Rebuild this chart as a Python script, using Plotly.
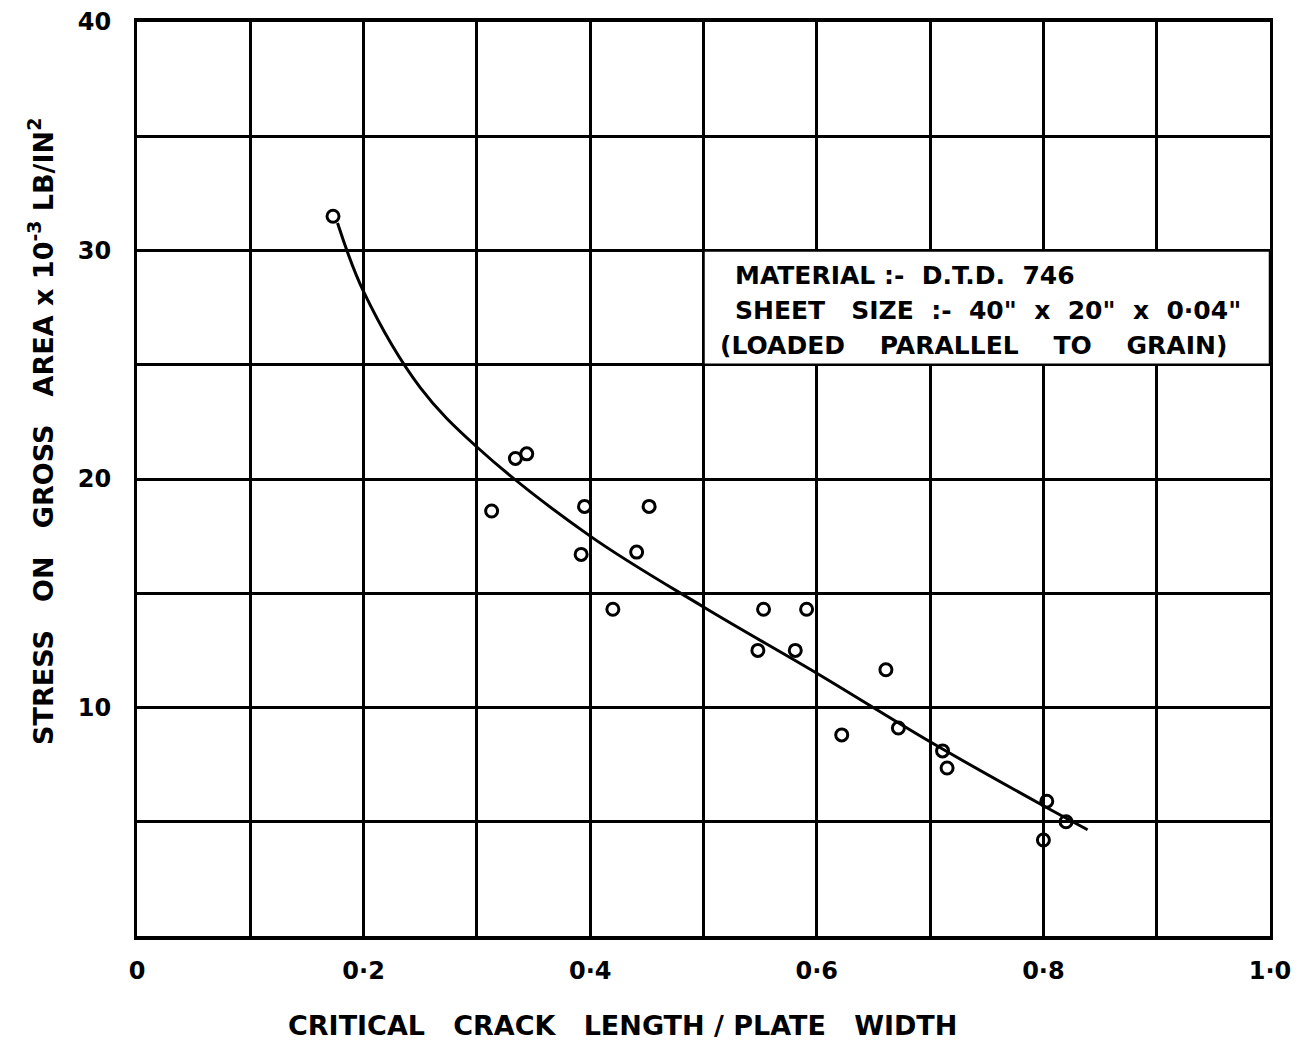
import plotly.graph_objects as go

# Measured points
crack_ratio = [0.173, 0.313, 0.334, 0.344, 0.392, 0.395, 0.420, 0.441, 0.452,
               0.548, 0.553, 0.581, 0.591, 0.622, 0.661, 0.672, 0.711, 0.715,
               0.803, 0.800, 0.820]
stress = [31.5, 18.6, 20.9, 21.1, 16.7, 18.8, 14.3, 16.8, 18.8,
          12.5, 14.3, 12.5, 14.3, 8.8, 11.65, 9.1, 8.1, 7.35,
          5.9, 4.2, 5.0]

# Fitted curve
curve_x = [0.177, 0.200, 0.250, 0.300, 0.400, 0.500, 0.600, 0.700, 0.800, 0.839]
curve_y = [31.2, 28.2, 24.0, 21.4, 17.5, 14.4, 11.5, 8.5, 5.7, 4.65]

x_tickvals = [0, 0.1, 0.2, 0.3, 0.4, 0.5, 0.6, 0.7, 0.8, 0.9, 1.0]
x_ticktext = ["0", "", "0·2", "", "0·4", "", "0·6", "", "0·8", "", "1·0"]
y_tickvals = [0, 5, 10, 15, 20, 25, 30, 35, 40]
y_ticktext = ["", "", "10", "", "20", "", "30", "", "40"]

note_lines = ["MATERIAL :-  D.T.D.  746",
              "SHEET   SIZE  :-  40\"  x  20\"  x  0·04\"",
              "(LOADED    PARALLEL    TO    GRAIN)"]
note_x = [0.526, 0.526, 0.513]

FONT = "DejaVu Sans"
NB = "&nbsp;"

fig = go.Figure()
fig.add_trace(go.Scatter(x=curve_x, y=curve_y, mode="lines",
                         line=dict(color="black", width=3, shape="spline", smoothing=1.0),
                         hoverinfo="skip", showlegend=False))
fig.add_trace(go.Scatter(x=crack_ratio, y=stress, mode="markers",
                         marker=dict(symbol="circle-open", size=12, color="black",
                                     line=dict(width=3, color="black")),
                         showlegend=False))

# White note box covering grid
fig.add_shape(type="rect", xref="x", yref="y", x0=0.5, x1=1.0, y0=25, y1=30,
              fillcolor="white", line=dict(color="black", width=2.5), layer="between")
for i, t in enumerate(note_lines):
    fig.add_annotation(x=note_x[i], y=28.9 - i * 1.52, xref="x", yref="y",
                       text="<b>" + t.replace(" ", NB) + "</b>",
                       showarrow=False, xanchor="left", yanchor="middle",
                       font=dict(family=FONT, size=25, color="black"))

# Axis titles
fig.add_annotation(x=(622 - 137) / 1133, y=-0.098, xref="paper", yref="paper",
                   text="<b>" + "CRITICAL   CRACK   LENGTH / PLATE   WIDTH".replace(" ", NB) + "</b>",
                   showarrow=False, xanchor="center", yanchor="middle",
                   font=dict(family=FONT, size=27, color="black"))
fig.add_annotation(x=-0.085, y=(937 - 430) / 918, xref="paper", yref="paper",
                   text="<b>" + "STRESS   ON   GROSS   AREA x 10".replace(" ", NB)
                        + "<sup>-3</sup> LB/IN<sup>2</sup></b>",
                   textangle=-90, showarrow=False, xanchor="center", yanchor="middle",
                   font=dict(family=FONT, size=27, color="black"))

fig.update_xaxes(range=[0, 1.0], tickvals=x_tickvals, ticktext=x_ticktext,
                 showgrid=True, gridcolor="black", gridwidth=2.5,
                 showline=True, linecolor="black", linewidth=4, mirror=True,
                 zeroline=False, ticks="", ticklabelstandoff=10, automargin=False,
                 ticklabeloverflow="allow",
                 tickfont=dict(family=FONT, size=24, color="black", weight="bold"))
fig.update_yaxes(range=[0, 40], tickvals=y_tickvals, ticktext=y_ticktext,
                 showgrid=True, gridcolor="black", gridwidth=2.5,
                 showline=True, linecolor="black", linewidth=3, mirror=True,
                 zeroline=False, ticks="", ticklabelstandoff=18, automargin=False,
                 ticklabeloverflow="allow",
                 tickfont=dict(family=FONT, size=24, color="black", weight="bold"))

fig.update_layout(width=1304, height=1052,
                  margin=dict(l=129, r=42, t=14, b=124, autoexpand=False),
                  paper_bgcolor="white", plot_bgcolor="white")

fig.write_html("out.html")
